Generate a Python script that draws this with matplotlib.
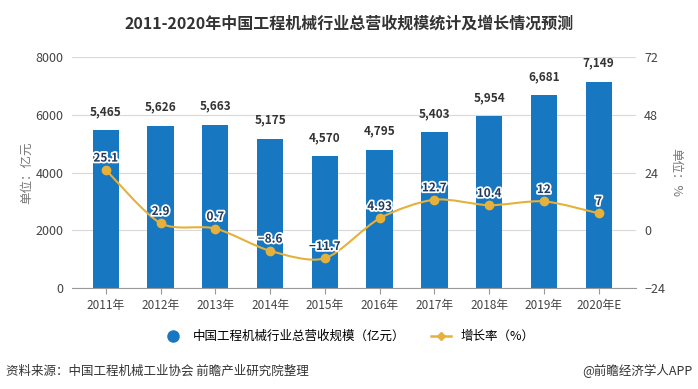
import matplotlib.pyplot as plt
import matplotlib.patheffects as pe
from matplotlib.path import Path
from matplotlib.patches import PathPatch
from matplotlib.lines import Line2D
import numpy as np

plt.rcParams['font.family'] = ['Noto Sans CJK SC', 'DejaVu Sans']

years = ['2011年', '2012年', '2013年', '2014年', '2015年', '2016年',
         '2017年', '2018年', '2019年', '2020年E']
revenue = [5465, 5626, 5663, 5175, 4570, 4795, 5403, 5954, 6681, 7149]
growth = [25.1, 2.9, 0.7, -8.6, -11.7, 4.93, 12.7, 10.4, 12, 7]
growth_labels = ['25.1', '2.9', '0.7', '−8.6', '−11.7', '4.93', '12.7', '10.4', '12', '7']

bar_color = '#1877c1'
line_color = '#e6b13a'
text_color = '#333333'

fig = plt.figure(figsize=(6.98, 3.89), dpi=100)
ax = fig.add_axes([0.103, 0.26, 0.808, 0.593])
ax2 = ax.twinx()

x = np.arange(len(years))
ax.bar(x, revenue, width=0.48, color=bar_color, zorder=2)
for xi, v in zip(x, revenue):
    ax.text(xi, v + 420, f'{v:,}', ha='center', va='bottom', fontsize=8.5,
            fontweight='bold', color=text_color)

ax.set_ylim(0, 8000)
ax.set_yticks([0, 2000, 4000, 6000, 8000])
ax.set_xlim(-0.62, 9.68)
ax.set_xticks(x)
ax.set_xticklabels(years, fontsize=8.5, color='#444444')
ax.grid(axis='y', color='#d9d9d9', linewidth=0.8, zorder=0)
ax.set_axisbelow(True)
for s in ['top', 'left', 'right']:
    ax.spines[s].set_visible(False)
    ax2.spines[s].set_visible(False)
ax2.spines['bottom'].set_visible(False)
ax.spines['bottom'].set_color('#999999')
ax.tick_params(axis='y', length=0, labelsize=9, labelcolor='#444444', pad=6)
ax.tick_params(axis='x', length=4, color='#999999', pad=4)
ax.set_ylabel('单位：亿元', fontsize=9, color='#777777', labelpad=2)

ax2.set_ylim(-24, 72)
ax2.set_yticks([-24, 0, 24, 48, 72])
ax2.tick_params(axis='y', length=0, labelsize=9, labelcolor='#444444', pad=6)
ax2.set_ylabel('单位：%', fontsize=9, color='#777777', rotation=270, labelpad=12)

# smooth curve through growth points (Catmull-Rom as cubic Bezier)
pts = np.column_stack([x, growth]).astype(float)
verts = [tuple(pts[0])]
codes = [Path.MOVETO]
t = 0.14
for i in range(len(pts) - 1):
    p0 = pts[i - 1] if i > 0 else pts[i]
    p1 = pts[i]
    p2 = pts[i + 1]
    p3 = pts[i + 2] if i + 2 < len(pts) else pts[i + 1]
    c1 = p1 + (p2 - p0) * t
    c2 = p2 - (p3 - p1) * t
    verts += [tuple(c1), tuple(c2), tuple(p2)]
    codes += [Path.CURVE4] * 3
ax2.add_patch(PathPatch(Path(verts, codes), fill=False, edgecolor=line_color,
                        linewidth=1.5, zorder=3))
ax2.plot(x, growth, 'o', color=line_color, markersize=6, zorder=4)
for xi, g, lab in zip(x, growth, growth_labels):
    ax2.text(xi, g + 2.2, lab, ha='center', va='bottom', fontsize=8.5,
             fontweight='bold', color='#1f3a5c', zorder=5,
             path_effects=[pe.withStroke(linewidth=2.5, foreground='white')])

fig.suptitle('2011-2020年中国工程机械行业总营收规模统计及增长情况预测', x=0.5, y=0.96,
             fontsize=11.5, fontweight='bold', color=text_color)

handles = [
    Line2D([], [], marker='o', linestyle='none', color=bar_color, markersize=8),
    Line2D([], [], marker='D', color=line_color, markersize=4, linewidth=1.8),
]
fig.legend(handles, ['中国工程机械行业总营收规模（亿元）', '增长率（%）'],
           loc='center', bbox_to_anchor=(0.5, 0.135), ncol=2, frameon=False,
           fontsize=9, handlelength=1.6, columnspacing=2.0)

fig.text(0.008, 0.045, '资料来源：中国工程机械工业协会 前瞻产业研究院整理', fontsize=9,
         color='#333333', va='center', ha='left')
fig.text(0.992, 0.045, '@前瞻经济学人APP', fontsize=9, color='#333333',
         va='center', ha='right')

fig.savefig('out.png', dpi=100, facecolor='white')
